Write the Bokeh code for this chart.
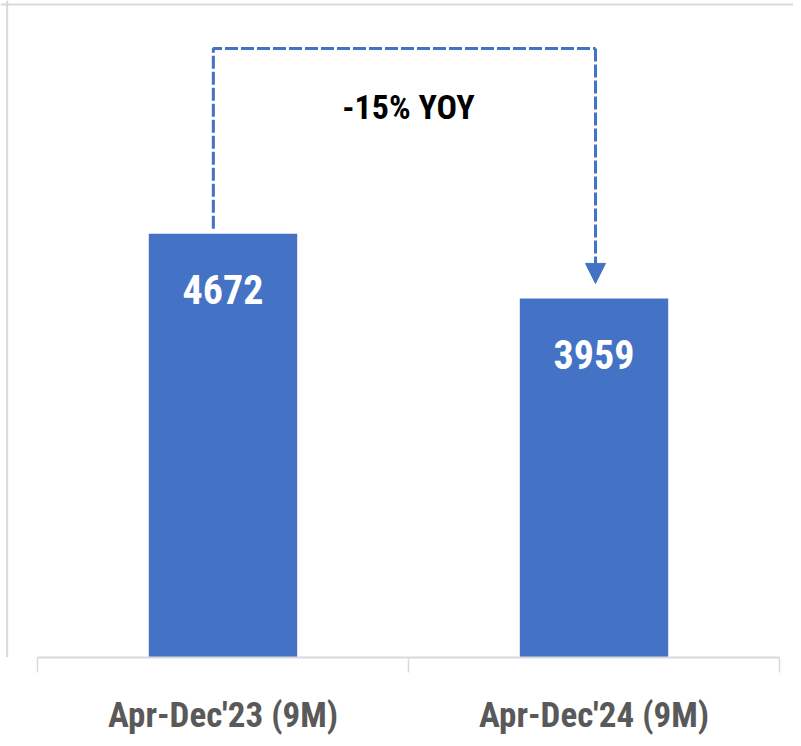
from bokeh.plotting import figure
from bokeh.models import (ColumnDataSource, Range1d, FixedTicker, Span, Label,
                          Arrow, NormalHead)
from bokeh.core.properties import value
from bokeh.embed import file_html
from bokeh.resources import INLINE

# ---- data ----
categories = ["Apr-Dec'23 (9M)", "Apr-Dec'24 (9M)"]
sales = [4672, 3959]
value_labels = ["4672", "3959"]
change_label = "-15% YOY"

# ---- layout / style ----
FONT = "Roboto Condensed"
BAR_COLOR = "#4472C4"
GRID_GRAY = "#D9D9D9"
W, H = 793, 738
Y_END = 7243
X_START, X_END = -0.0997, 2.0377
positions = [i + 0.5 for i in range(len(categories))]

p = figure(width=W, height=H, output_backend="svg", toolbar_location=None,
           x_range=Range1d(X_START, X_END), y_range=Range1d(0, Y_END),
           y_axis_location=None, x_axis_location="below",
           min_border_left=0, min_border_right=0, min_border_top=0,
           min_border_bottom=80)
p.background_fill_color = "white"
p.border_fill_color = "white"
p.outline_line_color = None
p.xgrid.visible = False
p.ygrid.visible = False

src = ColumnDataSource(dict(x=positions, top=sales, label=value_labels))
p.vbar(x="x", top="top", width=0.4, source=src, fill_color=BAR_COLOR,
       line_color=None)
p.text(x="x", y="top", text="label", source=src, y_offset=56,
       text_align="center", text_baseline="middle", text_color="white",
       text_font=value(FONT), text_font_style="bold", text_font_size="40px")

ax = p.xaxis[0]
ax.ticker = FixedTicker(ticks=positions, minor_ticks=[0, 1, 2])
ax.major_label_overrides = {pos: c for pos, c in zip(positions, categories)}
ax.bounds = (0, 2)
ax.axis_line_color = GRID_GRAY
ax.axis_line_width = 2
ax.major_tick_line_color = None
ax.major_tick_out = 0
ax.major_tick_in = 0
ax.minor_tick_line_color = GRID_GRAY
ax.minor_tick_line_width = 1.5
ax.minor_tick_out = 15
ax.minor_tick_in = 0
ax.major_label_standoff = 22
ax.major_label_text_font = FONT
ax.major_label_text_font_style = "bold"
ax.major_label_text_font_size = "35px"
ax.major_label_text_color = "#595959"

# chart border (top + left)
p.add_layout(Span(location=Y_END - 44, dimension="width",
                  line_color=GRID_GRAY, line_width=2))
p.add_layout(Span(location=X_START + 0.018, dimension="height",
                  line_color=GRID_GRAY, line_width=2))

# dashed YoY connector
CONN_X = [0.474, 1.504]
CONN_TOP = 6715
CONN_START = sales[0] + 55
ARROW_TIP = sales[1] + 165
p.line(x=[CONN_X[0], CONN_X[0], CONN_X[1]],
       y=[CONN_START, CONN_TOP, CONN_TOP],
       line_color=BAR_COLOR, line_width=3, line_dash="13 3")
p.add_layout(Arrow(x_start=CONN_X[1], y_start=CONN_TOP,
                   x_end=CONN_X[1], y_end=ARROW_TIP,
                   line_color=BAR_COLOR, line_width=3, line_dash="13 3",
                   end=NormalHead(size=20, fill_color=BAR_COLOR,
                                  line_color=BAR_COLOR, line_width=1)))

p.add_layout(Label(x=1.0, y=6066, text=change_label, text_align="center",
                   text_baseline="middle", text_color="black",
                   text_font=FONT, text_font_style="bold",
                   text_font_size="34px"))

open("out.html", "w").write(file_html(p, INLINE))
